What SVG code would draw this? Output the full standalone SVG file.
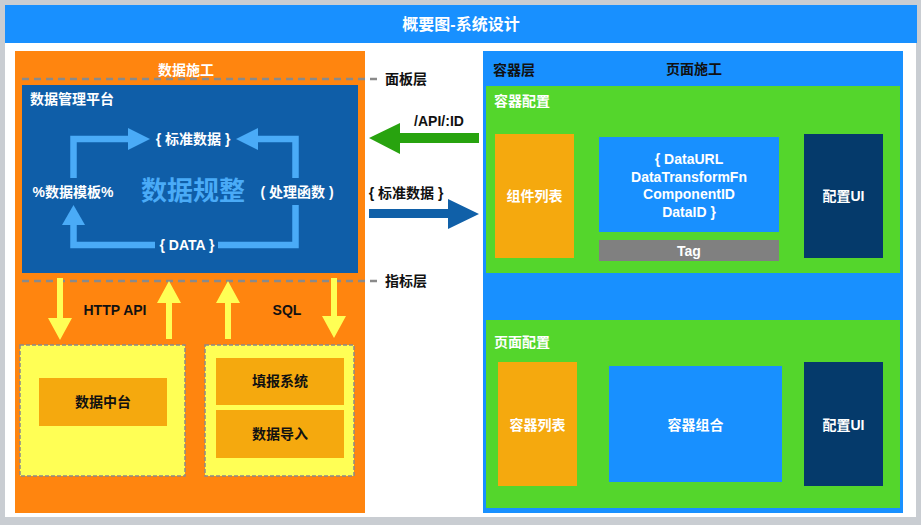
<svg xmlns="http://www.w3.org/2000/svg" width="921" height="525" viewBox="0 0 921 525">
<style>
text{font-family:"Liberation Sans","Noto Sans CJK SC",sans-serif;font-weight:bold;font-size:14px;dominant-baseline:central}
.w{fill:#ffffff}
.k{fill:#111111}
.c{text-anchor:middle}
.dash{stroke:#8a8a8a;stroke-width:2.5;stroke-dasharray:7,5;fill:none}
.loop{stroke:#4aabf7;stroke-width:6.5;fill:none;stroke-linejoin:miter}
.lh{fill:#4aabf7}
.ya{fill:#ffff55}
.ybox{fill:#ffff55;stroke:#8a8a8a;stroke-width:1.5;stroke-dasharray:4,2}
.ob{fill:#f5a90e}
.navy{fill:#053a6b}
.blue{fill:#1890ff}
.green{fill:#54d62c}
</style>
<rect x="0" y="0" width="921" height="525" fill="#c9cdd2"/>
<rect x="5" y="5" width="911" height="512" fill="#ffffff"/>
<g id="header">
<rect x="5" y="5" width="912" height="38" class="blue"/>
<text x="461" y="24" class="w c" style="font-size:16px">概要图-系统设计</text>
</g>
<g id="data-construction">
<rect x="15" y="51" width="350" height="462" fill="#ff850f"/>
<text x="186" y="70" class="w c">数据施工</text>
</g>
<g id="layer-lines">
<line x1="22" y1="79" x2="380" y2="79" class="dash"/>
<text x="385" y="79" class="k">面板层</text>
<line x1="22" y1="281" x2="380" y2="281" class="dash"/>
<text x="385" y="281" class="k">指标层</text>
</g>
<g id="data-platform">
<rect x="22" y="85" width="336" height="188" fill="#0f5ea8"/>
<text x="30" y="99" class="w">数据管理平台</text>
<text x="193" y="191" class="c" style="font-size:26px;fill:#4aabf7">数据规整</text>
<text x="193" y="139" class="w c">{ 标准数据 }</text>
<text x="73" y="192" class="w c">%数据模板%</text>
<text x="297" y="192" class="w c">( 处理函数 )</text>
<text x="187" y="245" class="w c">{ DATA }</text>
</g>
<g id="data-center">
<rect x="20" y="345" width="165" height="131" class="ybox"/>
<rect x="39" y="378" width="128" height="48" class="ob"/>
<text x="103" y="402" class="k c">数据中台</text>
</g>
<g id="fill-import">
<rect x="205" y="345" width="149" height="131" class="ybox"/>
<rect x="216" y="358" width="128" height="47" class="ob"/>
<text x="280" y="381" class="k c">填报系统</text>
<rect x="216" y="410" width="128" height="48" class="ob"/>
<text x="280" y="434" class="k c">数据导入</text>
</g>
<g id="page-construction">
<rect x="483" y="51" width="420" height="462" class="blue"/>
<text x="493" y="70" class="k">容器层</text>
<text x="694" y="69" class="k c">页面施工</text>
</g>
<g id="container-config">
<rect x="486" y="86" width="414" height="187" class="green"/>
<text x="494" y="101" class="w">容器配置</text>
<rect x="495" y="134" width="79" height="124" class="ob"/>
<text x="534.5" y="196" class="w c">组件列表</text>
<rect x="599" y="137" width="180" height="95" class="blue"/>
<text x="689" y="159" class="w c">{ DataURL</text>
<text x="689" y="177" class="w c">DataTransformFn</text>
<text x="689" y="194" class="w c">ComponentID</text>
<text x="689" y="212" class="w c">DataID }</text>
<rect x="599" y="240" width="180" height="21" fill="#808080"/>
<text x="689" y="251" class="w c">Tag</text>
<rect x="804" y="134" width="79" height="124" class="navy"/>
<text x="843.5" y="196" class="w c">配置UI</text>
</g>
<g id="page-config">
<rect x="486" y="320" width="414" height="188" class="green"/>
<text x="494" y="342" class="w">页面配置</text>
<rect x="498" y="362" width="79" height="124" class="ob"/>
<text x="537.5" y="425" class="w c">容器列表</text>
<rect x="609" y="366" width="173" height="116" class="blue"/>
<text x="695.5" y="425" class="w c">容器组合</text>
<rect x="804" y="362" width="79" height="124" class="navy"/>
<text x="843.5" y="425" class="w c">配置UI</text>
</g>
<g id="connectors">
<polyline points="73.5,178 73.5,139 130,139" class="loop"/>
<polygon points="128,128 150,139 128,150" class="lh"/>
<polyline points="295.5,178 295.5,139 256,139" class="loop"/>
<polygon points="258,128 236,139 258,150" class="lh"/>
<polyline points="155,245 73.5,245 73.5,223" class="loop"/>
<polygon points="62,225 73.5,205 85,225" class="lh"/>
<polyline points="218,245 295.5,245 295.5,205" class="loop"/>
<polygon points="57,278 63,278 63,318 72,318 60,340 48,318 57,318" class="ya"/>
<polygon points="169,281 181,303 172,303 172,339 166,339 166,303 157,303" class="ya"/>
<polygon points="228,281 240,303 231,303 231,339 225,339 225,303 216,303" class="ya"/>
<polygon points="331,278 337,278 337,316 346,316 334,338 322,316 331,316" class="ya"/>
<text x="115" y="310" class="k c">HTTP API</text>
<text x="287" y="310" class="k c">SQL</text>
<polygon points="369,138 400,123 400,133 479,133 479,143 400,143 400,154" fill="#28a30f"/>
<text x="439" y="121" class="k c">/API/:ID</text>
<polygon points="369,209 448,209 448,199 479,214 448,229 448,218 369,218" fill="#1060a8"/>
<text x="406" y="193" class="k c">{ 标准数据 }</text>
</g>
</svg>
